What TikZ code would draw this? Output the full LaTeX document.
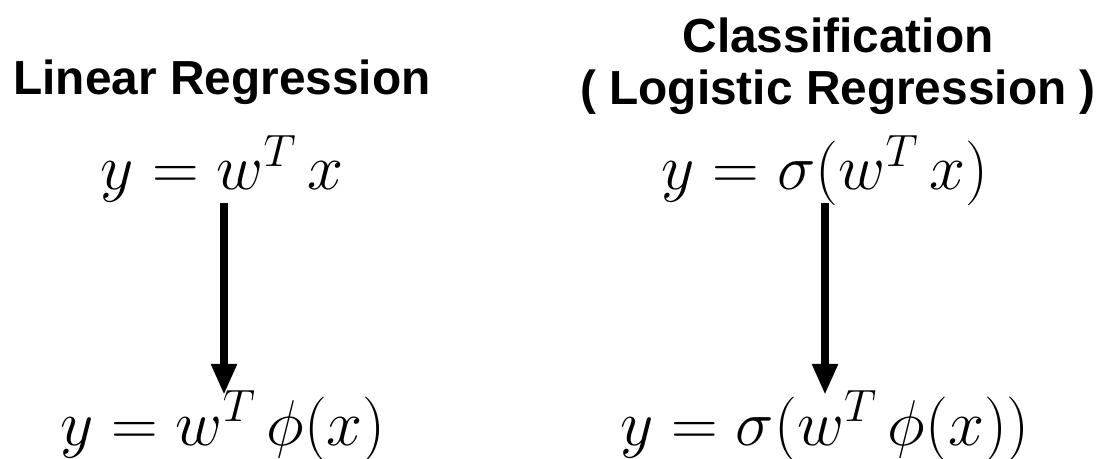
\RequirePackage{fix-cm}
\documentclass[tikz,border=0pt]{standalone}
\usepackage{amsmath,amssymb}
\usepackage{fontspec}
\newfontfamily\headfont{Liberation Sans}
\usepackage{tikz}
\usetikzlibrary{arrows.meta,positioning}
\definecolor{Ink}{HTML}{000000}

\tikzset{
  headnode/.style={inner sep=0pt,align=center,anchor=base,font=\headfont\bfseries\fontsize{34}{37}\selectfont},
  mathnode/.style={inner sep=0pt,anchor=base,font=\fontsize{46}{50}\selectfont},
  maparrow/.style={Ink,line width=0.2cm,-{Triangle[length=0.775cm,width=0.6cm]}}
}

\begin{document}
\begin{tikzpicture}[x=0.025cm,y=-0.025cm]
    \useasboundingbox (0,0) rectangle (1100,459);
    \node[headnode] (linHead) at (222,95) {Linear Regression};
    \node[headnode] (clsHead) at (838,105) {Classification\\( Logistic Regression )};
    \node[mathnode] (linTop) at (222,190) {$y = w^T\, x$};
    \node[mathnode] (clsTop) at (825,190) {$y = \sigma(w^T\, x)$};
    \node[mathnode] (linBot) at (223,445) {$y = w^T\, \phi(x)$};
    \node[mathnode] (clsBot) at (825,445) {$y = \sigma(w^T\, \phi(x))$};
    \coordinate (linA) at (224,203);
    \coordinate (linB) at (224,395);
    \coordinate (clsA) at (825,203);
    \coordinate (clsB) at (825,395);
    \draw[maparrow] (linA) -- (linB);
    \draw[maparrow] (clsA) -- (clsB);
  \end{tikzpicture}
\end{document}
